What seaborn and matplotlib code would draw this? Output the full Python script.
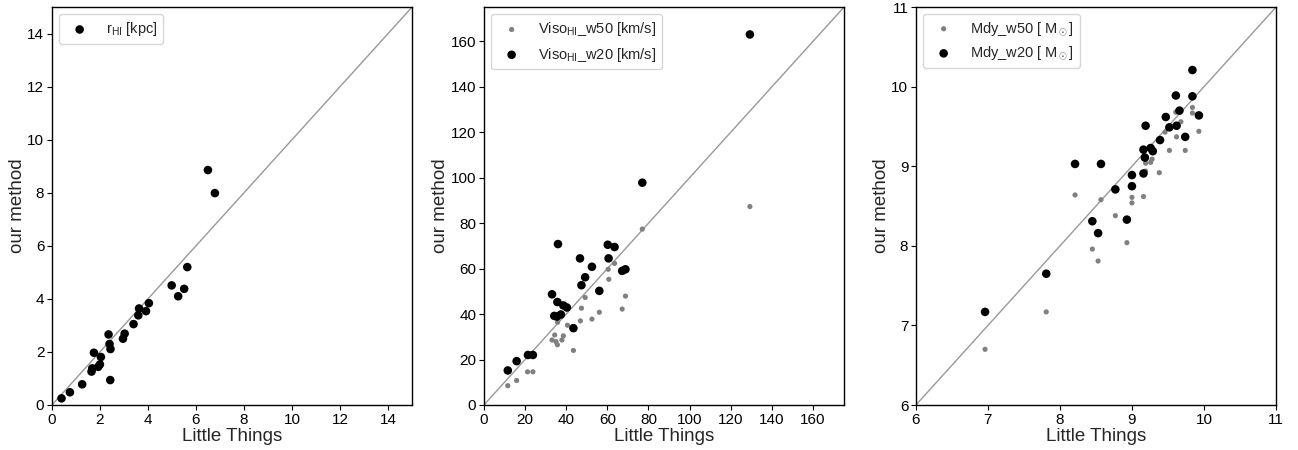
import matplotlib
matplotlib.use("Agg")
import matplotlib.pyplot as plt
import seaborn as sns
import pandas as pd

# -------------------------------
# Donnees
# -------------------------------
rhi_lt = [0.40, 0.75, 1.26, 1.65, 1.68, 1.75, 1.93, 2.00, 2.04, 2.36, 2.40, 2.44, 2.43,
          2.96, 3.03, 3.40, 3.60, 3.63, 3.92, 4.04, 4.99, 5.26, 5.51, 5.64, 6.50, 6.79]
rhi_our = [0.25, 0.48, 0.78, 1.26, 1.38, 1.97, 1.44, 1.53, 1.81, 2.66, 2.30, 2.11, 0.94,
           2.50, 2.69, 3.05, 3.38, 3.64, 3.54, 3.84, 4.51, 4.10, 4.38, 5.20, 8.86, 7.99]

viso_lt = [11.6, 15.9, 21.4, 23.8, 33.1, 34.2, 35.5, 36.0, 35.7, 37.4, 38.6, 40.3, 43.5,
           46.7, 47.4, 49.2, 52.5, 56.1, 60.2, 60.6, 63.5, 67.2, 68.8, 77.0, 129.3]
viso_w20 = [15.2, 19.3, 22.0, 22.0, 48.7, 39.2, 38.9, 70.8, 45.3, 39.8, 43.8, 42.9, 33.8,
            64.5, 52.7, 56.2, 60.8, 50.2, 70.5, 64.5, 69.5, 59.0, 59.7, 97.8, 163.0]
viso_lt50 = [11.6, 15.9, 21.2, 23.8, 33.1, 34.4, 35.0, 35.7, 35.8, 37.9, 38.6, 40.6, 43.5,
             46.9, 47.4, 49.2, 52.5, 56.1, 60.4, 60.7, 63.5, 67.2, 68.8, 77.0, 129.3]
viso_w50 = [8.5, 10.8, 14.6, 14.6, 28.6, 30.8, 27.9, 26.5, 36.4, 28.6, 30.4, 35.1, 24.0,
            37.0, 42.6, 47.3, 37.8, 40.8, 59.7, 55.3, 62.3, 42.2, 47.9, 77.4, 87.3]

mdy_lt20 = [6.96, 7.81, 8.21, 8.45, 8.53, 8.57, 8.77, 8.93, 9.00, 9.00, 9.16, 9.16, 9.18,
            9.19, 9.26, 9.29, 9.39, 9.47, 9.52, 9.61, 9.62, 9.66, 9.74, 9.84, 9.84, 9.93]
mdy_w20 = [7.17, 7.65, 9.03, 8.31, 8.16, 9.03, 8.71, 8.33, 8.89, 8.75, 9.21, 8.91, 9.11,
           9.51, 9.23, 9.19, 9.33, 9.62, 9.49, 9.89, 9.51, 9.70, 9.37, 10.21, 9.88, 9.64]
mdy_lt50 = [6.96, 7.81, 8.21, 8.45, 8.53, 8.57, 8.77, 8.93, 9.00, 9.00, 9.16, 9.19, 9.19,
            9.28, 9.26, 9.38, 9.46, 9.52, 9.61, 9.62, 9.68, 9.74, 9.84, 9.84, 9.93]
mdy_w50 = [6.70, 7.17, 8.64, 7.96, 7.81, 8.58, 8.38, 8.04, 8.61, 8.54, 8.62, 9.04, 8.94,
           9.09, 9.05, 8.92, 9.43, 9.20, 9.68, 9.37, 9.56, 9.20, 9.74, 9.67, 9.44]

sns.set_style("ticks")
plt.rcParams['font.family'] = ['Liberation Sans', 'DejaVu Sans']
plt.rcParams['mathtext.fontset'] = 'custom'
plt.rcParams['mathtext.rm'] = 'Liberation Sans'
plt.rcParams['mathtext.it'] = 'Liberation Sans:italic'
plt.rcParams['mathtext.bf'] = 'Liberation Sans:bold'
plt.rcParams['axes.edgecolor'] = 'black'
plt.rcParams['xtick.color'] = 'black'
plt.rcParams['ytick.color'] = 'black'

fig, axes = plt.subplots(1, 3, figsize=(12.98, 4.5), dpi=100)
fig.subplots_adjust(left=0.040, right=0.983, bottom=0.10, top=0.984, wspace=0.2)


def panel(ax, lim, ticks, series):
    ax.plot(lim, lim, color='#999999', lw=1, zorder=1)
    for x, y, col, size, lab in series:
        df = pd.DataFrame({'x': x, 'y': y})
        sns.scatterplot(data=df, x='x', y='y', ax=ax, color=col, s=size,
                        edgecolor='none', label=lab, zorder=3)
    ax.set_xlim(lim)
    ax.set_ylim(lim)
    ax.set_xticks(ticks)
    ax.set_yticks(ticks)
    ax.tick_params(labelsize=11, length=3.5, pad=2)
    ax.set_xlabel("Little Things", fontsize=13.5, labelpad=1)
    ax.set_ylabel("our method", fontsize=13.5, labelpad=1)
    for sp in ax.spines.values():
        sp.set_visible(True)
        sp.set_linewidth(1)
    ax.legend(loc='upper left', fontsize=10.5)


panel(axes[0], (0, 15), range(0, 15, 2),
      [(rhi_lt, rhi_our, 'black', 38, r'r$_{\rm HI}$ [kpc]')])
panel(axes[1], (0, 175), range(0, 161, 20),
      [(viso_lt50, viso_w50, 'gray', 14, r'Viso$_{\rm HI}$_w50 [km/s]'),
       (viso_lt, viso_w20, 'black', 38, r'Viso$_{\rm HI}$_w20 [km/s]')])
panel(axes[2], (6, 11), range(6, 12),
      [(mdy_lt50, mdy_w50, 'gray', 14, r'Mdy_w50 [ M$_\odot$]'),
       (mdy_lt20, mdy_w20, 'black', 38, r'Mdy_w20 [ M$_\odot$]')])

plt.savefig("out.png", dpi=100)
